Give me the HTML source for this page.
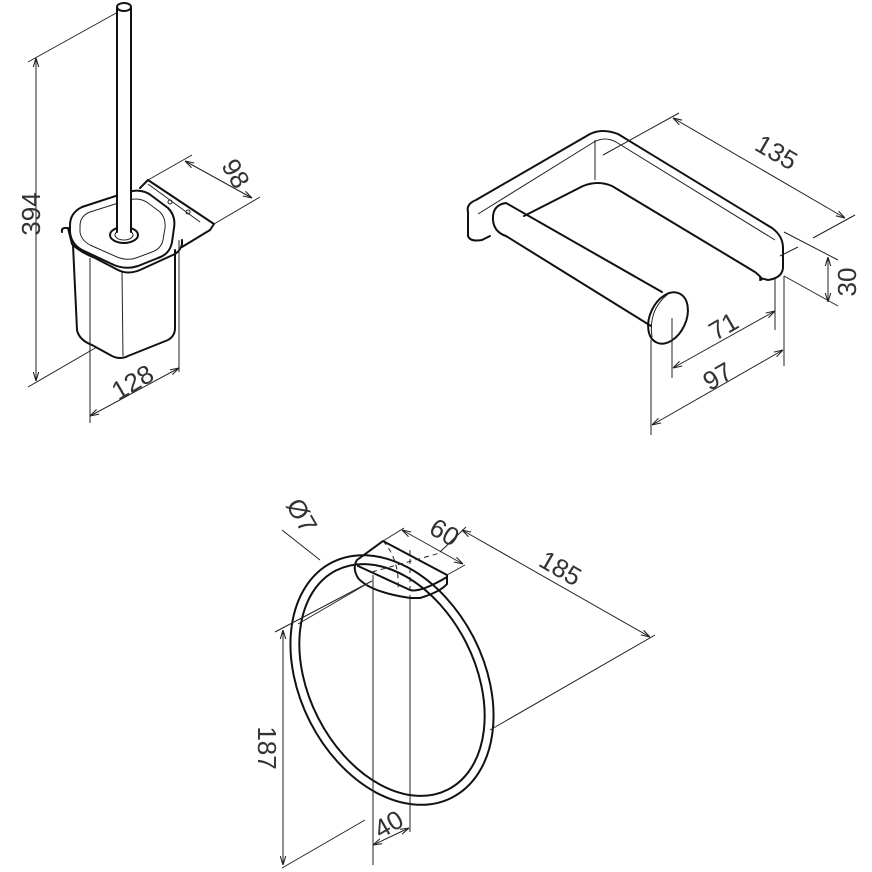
<!DOCTYPE html>
<html><head><meta charset="utf-8"><style>
html,body{margin:0;padding:0;background:#fff;}
svg{display:block}
text{font-family:"Liberation Sans",sans-serif;font-size:26px;fill:#333;}
.m{fill:none;stroke:#111;stroke-width:2;stroke-linejoin:round;stroke-linecap:round}
.t{fill:none;stroke:#222;stroke-width:1}
.d{fill:none;stroke:#222;stroke-width:1;marker-start:url(#a);marker-end:url(#a)}
.dash{fill:none;stroke:#222;stroke-width:1;stroke-dasharray:5 4}
</style></head><body>
<svg width="872" height="872" viewBox="0 0 872 872" xmlns="http://www.w3.org/2000/svg">
<defs><marker id="a" viewBox="0 0 10 10" refX="10" refY="5" markerWidth="9" markerHeight="9" orient="auto-start-reverse" markerUnits="userSpaceOnUse"><path d="M0,2 L10,5 L0,8" fill="none" stroke="#222" stroke-width="1.2"/></marker></defs>

<!-- ===== Toilet brush ===== -->
<line class="t" x1="28" y1="62" x2="118" y2="12"/>
<line class="t" x1="28" y1="387" x2="97" y2="347"/>
<line class="d" x1="36" y1="58" x2="36" y2="381"/>
<text transform="translate(40,214) rotate(-90)" text-anchor="middle">394</text>
<!-- wall plate -->
<path class="m" d="M140,188 L148,180 L214,224 L210,230 L182,247"/>
<path class="t" d="M148,184 L200,222"/>
<circle cx="170" cy="202" r="2" class="t"/><circle cx="188" cy="212" r="2" class="t"/>
<!-- cup -->
<path class="m" d="M73,245 L77,330 Q79,340 92,345 L112,356 Q120,360 128,356 L168,340 Q175,336 175,328 L175,250"/>
<line class="t" x1="122" y1="272" x2="123" y2="356"/>
<path fill="#fff" class="m" d="M62,232 Q61,227 68,228 L72,244 Q80,252 95,258 L118,270 Q128,275 140,270 L175,254 Q181,250 182,244 L182,240"/>
<path class="m" d="M70,225 Q70,213 82,207 L128,192 Q142,188 152,196 L168,208 Q176,216 174,228 L172,242 Q170,254 158,258 L138,266 Q126,270 114,265 L82,250 Q71,244 70,232 Z"/>
<path class="t" d="M80,226 Q80,216 90,212 L128,200 Q140,197 148,203 L160,212 Q166,218 165,228 L163,240 Q161,249 152,252 L136,258 Q127,261 117,257 L90,245 Q81,240 80,232 Z"/>
<ellipse cx="124" cy="235" rx="14" ry="8" class="m"/>
<ellipse cx="124" cy="235" rx="9" ry="5" class="t"/>
<!-- handle -->
<rect x="117" y="8" width="14" height="224" fill="#fff"/>
<path class="m" d="M117,8 L117,232 M131,8 L131,232"/>
<ellipse cx="124" cy="7" rx="7" ry="4" class="m"/>
<!-- 98 -->
<line class="t" x1="148" y1="180" x2="192" y2="155"/>
<line class="t" x1="214" y1="224" x2="260" y2="197"/>
<line class="d" x1="185" y1="161" x2="252" y2="198"/>
<text transform="translate(228,178) rotate(60)" text-anchor="middle">98</text>
<!-- 128 -->
<line class="t" x1="90" y1="258" x2="90" y2="423"/>
<line class="t" x1="179" y1="240" x2="179" y2="372"/>
<line class="d" x1="90" y1="416" x2="179" y2="368"/>
<text transform="translate(137,390) rotate(-30)" text-anchor="middle">128</text>

<!-- ===== Paper holder ===== -->
<path class="m" d="M468,212 Q466,204 476,200 L590,134 Q602,128 618,134 L772,228 Q783,236 783,248 L783,268 Q782,278 768,280 L760,278"/>
<path class="m" d="M468,212 L468,236 Q470,242 482,240 L490,236"/>
<path class="t" d="M478,214 L594,142 Q605,136 616,142 L775,240"/>
<line class="t" x1="595" y1="140" x2="595" y2="180"/>
<path class="m" d="M524,216 L583,186 Q598,180 612,186 L755,272 Q765,280 760,280"/>
<!-- roll -->
<path class="m" d="M493,220 Q492,205 506,203 L662,292"/>
<path class="m" d="M493,220 Q494,232 506,236 L651,326"/>
<ellipse cx="668" cy="318" rx="18" ry="27" transform="rotate(25 668 318)" class="m"/>
<path class="t" d="M652,337 Q648,310 668,294"/>
<!-- 135 -->
<line class="t" x1="603" y1="155" x2="679" y2="113"/>
<line class="t" x1="813" y1="238" x2="855" y2="215"/>
<line class="d" x1="673" y1="118" x2="845" y2="218"/>
<text transform="translate(772,160) rotate(30)" text-anchor="middle">135</text>
<!-- 30 -->
<line class="t" x1="784" y1="232" x2="838" y2="260"/>
<line class="t" x1="784" y1="276" x2="838" y2="306"/>
<line class="t" x1="780" y1="256" x2="798" y2="247"/>
<line class="d" x1="828" y1="257" x2="828" y2="302"/>
<text transform="translate(856,282) rotate(-90)" text-anchor="middle">30</text>
<!-- 71 -->
<line class="t" x1="672" y1="318" x2="672" y2="378"/>
<line class="t" x1="775" y1="278" x2="775" y2="330"/>
<line class="d" x1="673" y1="368" x2="775" y2="311"/>
<text transform="translate(728,334) rotate(-30)" text-anchor="middle">71</text>
<!-- 97 -->
<line class="t" x1="651" y1="340" x2="651" y2="435"/>
<line class="t" x1="784" y1="276" x2="784" y2="366"/>
<line class="d" x1="652" y1="425" x2="783" y2="350"/>
<text transform="translate(722,384) rotate(-30)" text-anchor="middle">97</text>

<!-- ===== Towel ring ===== -->
<ellipse cx="392" cy="680" rx="92" ry="132" transform="rotate(-27 392 680)" class="m"/>
<ellipse cx="392" cy="680" rx="83" ry="123" transform="rotate(-27 392 680)" class="m"/>
<!-- mount -->
<path fill="#fff" class="m" d="M357,560 L383,541 L447,575 L447,584 Q440,592 420,598 L410,598 Q370,592 358,578 Q352,568 357,560 Z"/>
<path class="m" d="M358,566 L410,590 Q420,593 447,577"/>
<path class="dash" d="M383,541 Q400,560 398,590 M410,550 L410,598 M372,572 L440,553"/>
<!-- ø7 -->
<line class="t" x1="282" y1="530" x2="320" y2="560"/>
<text transform="translate(294,520) rotate(60)" text-anchor="middle">Ø7</text>
<!-- 60 -->
<line class="t" x1="383" y1="541" x2="404" y2="528"/>
<line class="t" x1="447" y1="575" x2="465" y2="565"/>
<line class="d" x1="402" y1="530" x2="463" y2="564"/>
<text transform="translate(440,540) rotate(30)" text-anchor="middle">60</text>
<!-- 185 -->
<line class="t" x1="440" y1="552" x2="466" y2="527"/>
<line class="t" x1="490" y1="730" x2="655" y2="635"/>
<line class="d" x1="462" y1="530" x2="650" y2="637"/>
<text transform="translate(556,576) rotate(30)" text-anchor="middle">185</text>
<!-- 187 -->
<line class="t" x1="275" y1="632" x2="372" y2="581"/>
<line class="t" x1="298" y1="624" x2="365" y2="585"/>
<line class="t" x1="282" y1="868" x2="365" y2="820"/>
<line class="d" x1="283" y1="630" x2="283" y2="865"/>
<text transform="translate(258,748) rotate(90)" text-anchor="middle">187</text>
<!-- 40 -->
<line class="t" x1="373" y1="575" x2="373" y2="865"/>
<line class="t" x1="410" y1="598" x2="410" y2="832"/>
<line class="d" x1="373" y1="845" x2="409" y2="828"/>
<text transform="translate(393,832) rotate(-30)" text-anchor="middle">40</text>
</svg>
</body></html>
